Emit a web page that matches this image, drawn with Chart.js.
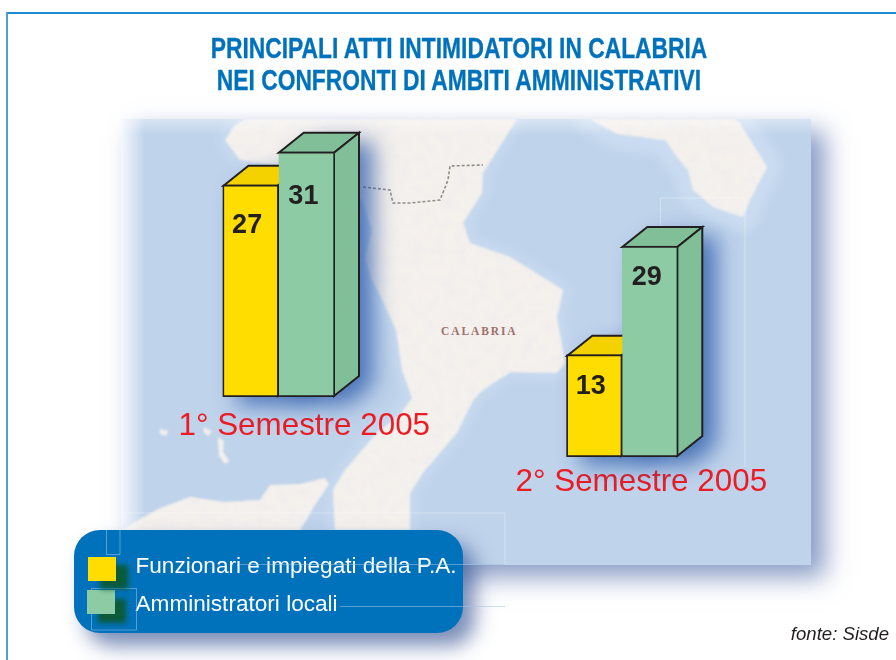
<!DOCTYPE html>
<html lang="it">
<head>
<meta charset="utf-8">
<title>Principali atti intimidatori in Calabria</title>
<script src="https://cdn.jsdelivr.net/npm/chart.js@4"></script>
<style>
html,body{margin:0;padding:0;background:#fff;overflow:hidden}
#page{position:relative;width:896px;height:660px;overflow:hidden;font-family:"Liberation Sans",Arial,sans-serif}
#frameTop{position:absolute;left:6px;top:12px;right:0;height:1.5px;background:#1f8ad2}
#frameLeft{position:absolute;left:6px;top:12px;bottom:0;width:2px;background:#4d9fdc}
#title{position:absolute;left:0;top:32px;width:918px;text-align:center;color:#0072bc;font:bold 29.5px/32px "Liberation Sans",sans-serif;white-space:nowrap;transform:scaleX(.773);transform-origin:459px 0;-webkit-text-stroke:.35px #0072bc}
#mapShadow{position:absolute;left:121px;top:119px;width:690px;height:446px;box-shadow:14px 12px 24px rgba(58,88,160,.6)}
svg{position:absolute;left:0;top:0}
canvas{position:absolute;left:0;top:0}
#legend{position:absolute;left:73.5px;top:529.5px;width:389px;height:103px;border-radius:26px;background:#0072bc;box-shadow:12px 13px 20px rgba(42,72,140,.62);color:#fff;font-size:22.6px}
.lg{position:absolute;left:62px;white-space:nowrap;line-height:24px}
.sw{position:absolute;width:28px;height:24px}
#source{position:absolute;right:7px;top:623px;color:#231f20;font:italic 18.6px/22px "Liberation Sans",sans-serif}
#traces{pointer-events:none}
</style>
</head>
<body>
<div id="page">
  <div id="frameTop"></div><div id="frameLeft"></div>
  <div id="title">PRINCIPALI ATTI INTIMIDATORI IN CALABRIA<br>NEI CONFRONTI DI AMBITI AMMINISTRATIVI</div>
  <div id="mapShadow"></div>
  <svg width="896" height="660" viewBox="0 0 896 660" aria-hidden="true">
    <defs>
      <clipPath id="mapClip"><rect x="121" y="119" width="690" height="446"/></clipPath>
      <filter id="halo" x="-20%" y="-20%" width="140%" height="140%"><feGaussianBlur stdDeviation="5"/></filter>
      <filter id="terrain" x="-5%" y="-5%" width="110%" height="110%">
        <feGaussianBlur in="SourceGraphic" stdDeviation="1.3" result="soft"/>
        <feTurbulence type="fractalNoise" baseFrequency=".09" numOctaves="3" seed="7" result="n"/>
        <feColorMatrix in="n" type="matrix" values="0 0 0 0 .86  0 0 0 0 .85  0 0 0 0 .85  2.2 0 0 0 -1.05" result="m"/>
        <feComposite in="m" in2="soft" operator="in" result="mott"/>
        <feMerge><feMergeNode in="soft"/><feMergeNode in="mott"/></feMerge>
      </filter>
      <linearGradient id="fadeL" x1="0" x2="1" y1="0" y2="0"><stop offset="0" stop-color="#fff" stop-opacity=".85"/><stop offset="1" stop-color="#fff" stop-opacity="0"/></linearGradient>
      <linearGradient id="fadeT" x1="0" x2="0" y1="0" y2="1"><stop offset="0" stop-color="#fff" stop-opacity=".4"/><stop offset="1" stop-color="#fff" stop-opacity="0"/></linearGradient>
    </defs>
    <g clip-path="url(#mapClip)">
      <rect x="121" y="119" width="690" height="446" fill="#bfd3eb"/>
      <g fill="#cadcf1" stroke="#cadcf1" stroke-width="30" stroke-linejoin="round" filter="url(#halo)">
        <path d="M590 119L617 134L665 140L677 157L688 170L693 190L713 207L743 217L750 200L767 167L740 123L735 119Z"/>
      </g>
      <g fill="#c6d9ef" stroke="#c6d9ef" stroke-width="14" stroke-linejoin="round" filter="url(#halo)">
        <path d="M225 140L235 125L245 119L517 119L483 173L482 193L463 223L470 243L510 257L563 290L557 317L565 363L557 373L510 372L483 390L473 400L457 433L425 470L410 493L410 530L335 530L333 490L345 470L377 433L400 415L412 398L402 370L396 330L385 305L372 280L365 258L372 230L362 200L300 168L240 160Z"/>
      </g>
      <g fill="#f4f0ec" filter="url(#terrain)">
        <path d="M225 140L235 125L245 119L517 119L483 173L482 193L463 223L470 243L510 257L563 290L557 317L565 363L557 373L510 372L483 390L473 400L457 433L425 470L410 493L410 530L335 530L333 490L345 470L377 433L400 415L412 398L402 370L396 330L385 305L372 280L365 258L372 230L362 200L300 168L240 160Z"/>
        <path d="M590 119L617 134L665 140L677 157L688 170L693 190L713 207L743 217L750 200L767 167L740 123L735 119Z"/>
        <path d="M121 532L133 523L160 508L190 497L225 502L260 500L270 485L300 484L325 478L329 484L315 505L300 530L300 565L121 565Z"/>
        <path d="M218 437L224 441L223 452L229 461L225 464L219 456Z"/>
        <path d="M160 429L168 431L166 436L160 434Z"/>
        <path d="M203 427L212 431L208 436L204 432Z"/>
      </g>
      <path d="M363 187L390 190L393 203L410 203L440 200L448 180L450 166L483 165" fill="none" stroke="#8e8e86" stroke-width="1.6" stroke-dasharray="3 2"/>
      <g fill="none" stroke="#fff" stroke-opacity=".35">
        <path d="M660.5 240V198H745V467"/>
        <path d="M57 513H505V565"/>
      </g>
      <text x="441" y="335" fill="#a0706c" font-family="Liberation Serif,serif" font-weight="700" font-size="11.5" letter-spacing="1.9">CALABRIA</text>
      <rect x="121" y="119" width="24" height="446" fill="url(#fadeL)"/>
      <rect x="121" y="119" width="690" height="16" fill="url(#fadeT)"/>
    </g>
  </svg>
  <canvas id="chartFirst" width="896" height="660"></canvas>
  <canvas id="chartSecond" width="896" height="660"></canvas>
  <div id="legend"></div>
  <svg id="traces" width="896" height="660" viewBox="0 0 896 660" aria-hidden="true">
    <g fill="none" stroke="#9fc4e6" stroke-opacity=".55">
      <path d="M240 564.5H505"/>
      <path d="M340 606.5H505"/>
      <path d="M106.5 530V554.5H120V530"/>
      <path d="M91.5 588.5H136.5V630H91.5Z"/>
    </g>
  </svg>
  <div id="source">fonte: Sisde</div>
</div>
<script>
// ---- values ----
const semesters = ["1° Semestre 2005", "2° Semestre 2005"];
const seriesNames = ["Funzionari e impiegati della P.A.", "Amministratori locali"];
const funzionari = [27, 13];
const amministratori = [31, 29];

// ---- styling ----
const frontColors = ["#ffdd00", "#8ccba3"];
const depthColors = ["#f3d200", "#81bf99"];
const inkColor = "#231f20";
const labelRed = "#ed1c24";
const depthX = 25, depthY = 20;
const valueFont = 'bold 27px "Liberation Sans", Arial, sans-serif';

// placement of each drawing on the page
const layouts = [
  { canvas: "chartFirst",  left: 222.5, right: 335,   baseline: 397, axisMin: 1.27,  axisMax: 35, pxPerUnit: 8.25, labelShift: 25.5, tickPad: 11, drops: [41, 45], nudge: -3.5 },
  { canvas: "chartSecond", left: 566.3, right: 678.3, baseline: 457, axisMin: -2.07, axisMax: 35, pxPerUnit: 6.79, labelShift: 19,   tickPad: 7,  drops: [32, 32], nudge: -3.5 }
];

const solidBars = {
  id: "solidBars",
  beforeDatasetsDraw(chart, args, opts) {
    const c = chart.ctx;
    chart.data.datasets.forEach((ds, di) => {
      chart.getDatasetMeta(di).data.forEach(bar => {
        const l = bar.x - bar.width / 2 + (di === 0 ? 1 : 0), r = bar.x + bar.width / 2 - 1;
        const t = bar.y + 1, b = bar.base - 1;
        // soft shadow cast by the whole block
        c.save();
        c.shadowColor = "rgba(30,80,165,.72)";
        c.shadowBlur = 22;
        c.shadowOffsetX = 14;
        c.shadowOffsetY = 9;
        c.fillStyle = depthColors[di];
        c.beginPath();
        c.moveTo(l, t); c.lineTo(l + depthX, t - depthY); c.lineTo(r + depthX, t - depthY);
        c.lineTo(r + depthX, b - depthY); c.lineTo(r, b); c.lineTo(l, b);
        c.closePath(); c.fill();
        c.restore();
      });
    });
    chart.data.datasets.forEach((ds, di) => {
      chart.getDatasetMeta(di).data.forEach(bar => {
        const l = bar.x - bar.width / 2 + (di === 0 ? 1 : 0), r = bar.x + bar.width / 2 - 1;
        const t = bar.y + 1, b = bar.base - 1;
        c.save();
        c.fillStyle = depthColors[di];
        c.strokeStyle = inkColor;
        c.lineWidth = 2;
        c.lineJoin = "miter";
        c.beginPath();
        c.moveTo(l, t); c.lineTo(l + depthX, t - depthY); c.lineTo(r + depthX, t - depthY); c.lineTo(r, t);
        c.closePath(); c.fill(); c.stroke();
        c.beginPath();
        c.moveTo(r, t); c.lineTo(r + depthX, t - depthY); c.lineTo(r + depthX, b - depthY); c.lineTo(r, b);
        c.closePath(); c.fill(); c.stroke();
        c.restore();
      });
    });
  },
  afterDatasetsDraw(chart, args, opts) {
    const c = chart.ctx;
    c.save();
    c.font = valueFont;
    c.fillStyle = inkColor;
    c.textAlign = "center";
    c.textBaseline = "middle";
    chart.data.datasets.forEach((ds, di) => {
      chart.getDatasetMeta(di).data.forEach((bar, i) => {
        c.fillText(String(ds.data[i]), bar.x + opts.nudge, bar.y + opts.drops[di]);
      });
    });
    c.restore();
  }
};

layouts.forEach((lay, i) => {
  const axisBand = 50;
  const plotHeight = (lay.axisMax - lay.axisMin) * lay.pxPerUnit;
  new Chart(document.getElementById(lay.canvas), {
    type: "bar",
    data: {
      labels: [semesters[i]],
      datasets: [
        { label: seriesNames[0], data: [funzionari[i]], base: lay.axisMin, backgroundColor: frontColors[0], borderColor: inkColor,
          borderWidth: 2, borderSkipped: false },
        { label: seriesNames[1], data: [amministratori[i]], base: lay.axisMin, backgroundColor: frontColors[1], borderColor: inkColor,
          borderWidth: { left: 0, top: 2, right: 2, bottom: 2 }, borderSkipped: false }
      ]
    },
    options: {
      responsive: false,
      animation: false,
      devicePixelRatio: 1,
      categoryPercentage: 1,
      barPercentage: 1,
      layout: { padding: { left: lay.left, right: 896 - lay.right, top: lay.baseline - plotHeight, bottom: 660 - lay.baseline - axisBand } },
      plugins: {
        legend: { display: false },
        tooltip: { enabled: false },
        title: { display: false },
        solidBars: { drops: lay.drops, nudge: lay.nudge }
      },
      scales: {
        x: {
          afterFit(scale) { scale.height = axisBand; },
          grid: { display: false, drawTicks: false },
          border: { display: false },
          ticks: { color: labelRed, font: { family: '"Liberation Sans", Arial, sans-serif', size: 31.4 }, padding: lay.tickPad,
                   labelOffset: lay.labelShift, maxRotation: 0, minRotation: 0, autoSkip: false }
        },
        y: { display: false, min: lay.axisMin, max: lay.axisMax }
      }
    },
    plugins: [solidBars]
  });
});

// legend built from the series names
const legendBox = document.getElementById("legend");
const swatchPlace = [[14.5, 27.5, "12px 8px 5px #0b5a3a"], [13.5, 60.5, "11px 9px 5px #0b5a3a"]];
const textTop = [24.5, 62];
seriesNames.forEach((name, i) => {
  const sw = document.createElement("div");
  sw.className = "sw";
  sw.style.cssText = `left:${swatchPlace[i][0]}px;top:${swatchPlace[i][1]}px;background:${frontColors[i]};box-shadow:${swatchPlace[i][2]};z-index:${2 - i}`;
  legendBox.appendChild(sw);
  const t = document.createElement("div");
  t.className = "lg";
  t.style.top = textTop[i] + "px";
  t.textContent = name;
  legendBox.appendChild(t);
});
</script>
</body>
</html>
